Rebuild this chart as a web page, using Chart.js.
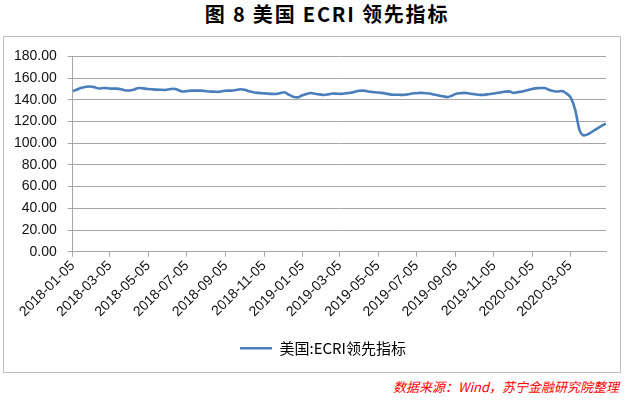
<!DOCTYPE html>
<html><head><meta charset="utf-8">
<script src="https://cdn.jsdelivr.net/npm/chart.js@4/dist/chart.umd.min.js"></script>
<style>
html,body{margin:0;padding:0;background:#fff;width:641px;height:400px;overflow:hidden;}
#title{position:absolute;left:0;top:-1px;width:654px;text-align:center;white-space:nowrap;font:bold 20px "Noto Sans CJK SC";letter-spacing:1.8px;color:#000;}
#box{position:absolute;left:3px;top:36px;width:618px;height:337px;border:1px solid #bfbfbf;box-sizing:border-box;}
#wrap{position:absolute;left:4px;top:37px;width:616px;height:335px;}
#src{position:absolute;right:22px;top:377px;white-space:nowrap;font:italic 13px "Noto Sans CJK SC";color:#ff0000;}
</style></head>
<body>
<div id="title">图 8 美国 ECRI 领先指标</div>
<div id="box"></div>
<div id="wrap"><canvas id="c" width="616" height="335"></canvas></div>
<div id="src">数据来源：Wind，苏宁金融研究院整理</div>
<script>
const seriesName = '美国:ECRI领先指标';
const firstWeek = '2018-01-05';
const values = [
147.9,149.5,151.0,152.0,152.2,151.5,150.4,150.9,150.6,150.3,
150.3,149.8,148.6,148.6,149.6,150.9,150.5,150.0,149.7,149.4,
149.2,149.1,149.7,150.2,148.9,147.6,148.1,148.5,148.5,148.5,
148.1,147.6,147.5,147.3,148.0,148.5,148.5,149.0,149.7,149.3,
147.8,147.0,146.4,146.1,145.8,145.5,145.3,146.0,146.9,144.8,
142.9,142.2,144.0,145.4,146.3,145.6,145.0,144.4,145.0,145.8,
145.6,145.5,146.0,146.5,147.4,148.3,148.5,147.7,147.2,146.8,
146.4,145.8,145.0,144.7,144.6,144.5,145.0,145.8,146.1,146.4,
146.1,145.8,144.8,143.9,143.2,142.5,143.8,145.6,146.1,146.4,
145.8,145.2,144.7,144.5,145.0,145.5,146.1,146.8,147.4,147.8,
146.4,147.1,147.7,148.7,149.7,150.5,150.9,150.9,149.3,148.2,
147.7,148.1,145.9,142.0,131.0,112.0,107.2,108.5,111.0,113.5,
116.0,118.0
];
const tickLabels = ['2018-01-05','2018-03-05','2018-05-05','2018-07-05','2018-09-05','2018-11-05',
  '2019-01-05','2019-03-05','2019-05-05','2019-07-05','2019-09-05','2019-11-05','2020-01-05','2020-03-05'];
const yTicks = [0,20,40,60,80,100,120,140,160,180];

const DAY = 86400000;
const t0 = Date.parse(firstWeek + 'T00:00:00Z');
const dayOf = s => Math.round((Date.parse(s + 'T00:00:00Z') - t0) / DAY);
const fmt = d => new Date(t0 + d * DAY).toISOString().slice(0, 10);
const points = values.map((v, i) => ({x: i * 7, y: v}));
const tickDays = tickLabels.map(dayOf);
const lastDay = (values.length - 1) * 7;

const shiftLegend = {
  id: 'shiftLegend',
  afterLayout(chart) {
    const lg = chart.legend;
    if (lg) { lg.left += 18; lg.right += 18; }
  }
};

const grey = '#a6a6a6';
new Chart(document.getElementById('c'), {
  type: 'line',
  data: { datasets: [{
    label: seriesName, data: points,
    borderColor: '#4a7ebb', backgroundColor: '#4a7ebb',
    borderWidth: 2.6, pointRadius: 0, cubicInterpolationMode: 'monotone', fill: false
  }]},
  plugins: [shiftLegend],
  options: {
    responsive: false, animation: false, devicePixelRatio: 1,
    layout: { padding: { left: 0, right: 14, top: 15.7, bottom: 6.3 } },
    plugins: {
      title: { display: false }, tooltip: { enabled: false },
      legend: { display: true, position: 'bottom',
        labels: { usePointStyle: true, pointStyle: 'line', pointStyleWidth: 32, padding: 10,
          color: '#000', font: { family: '"Noto Sans CJK SC"', size: 15 } } }
    },
    scales: {
      x: { type: 'linear', min: 0, max: lastDay,
        afterFit: s => { s.height = 79; },
        afterBuildTicks: s => { s.ticks = tickDays.map(v => ({ value: v })); },
        grid: { drawOnChartArea: false, drawTicks: true, tickLength: 5, color: grey },
        border: { color: grey, width: 1 },
        ticks: { autoSkip: false, minRotation: 45, maxRotation: 45, padding: 1, color: '#111',
          font: { family: '"Liberation Sans"', size: 14 }, callback: v => fmt(v) }
      },
      y: { min: 0, max: 180,
        afterFit: s => { s.width = 68.7; },
        afterBuildTicks: s => { s.ticks = yTicks.map(v => ({ value: v })); },
        grid: { color: grey, tickLength: 5, drawTicks: true },
        border: { color: grey, width: 1 },
        ticks: { padding: 11, color: '#111', font: { family: '"Liberation Sans"', size: 14 },
          callback: v => v.toFixed(2) }
      }
    }
  }
});
</script>
</body></html>
